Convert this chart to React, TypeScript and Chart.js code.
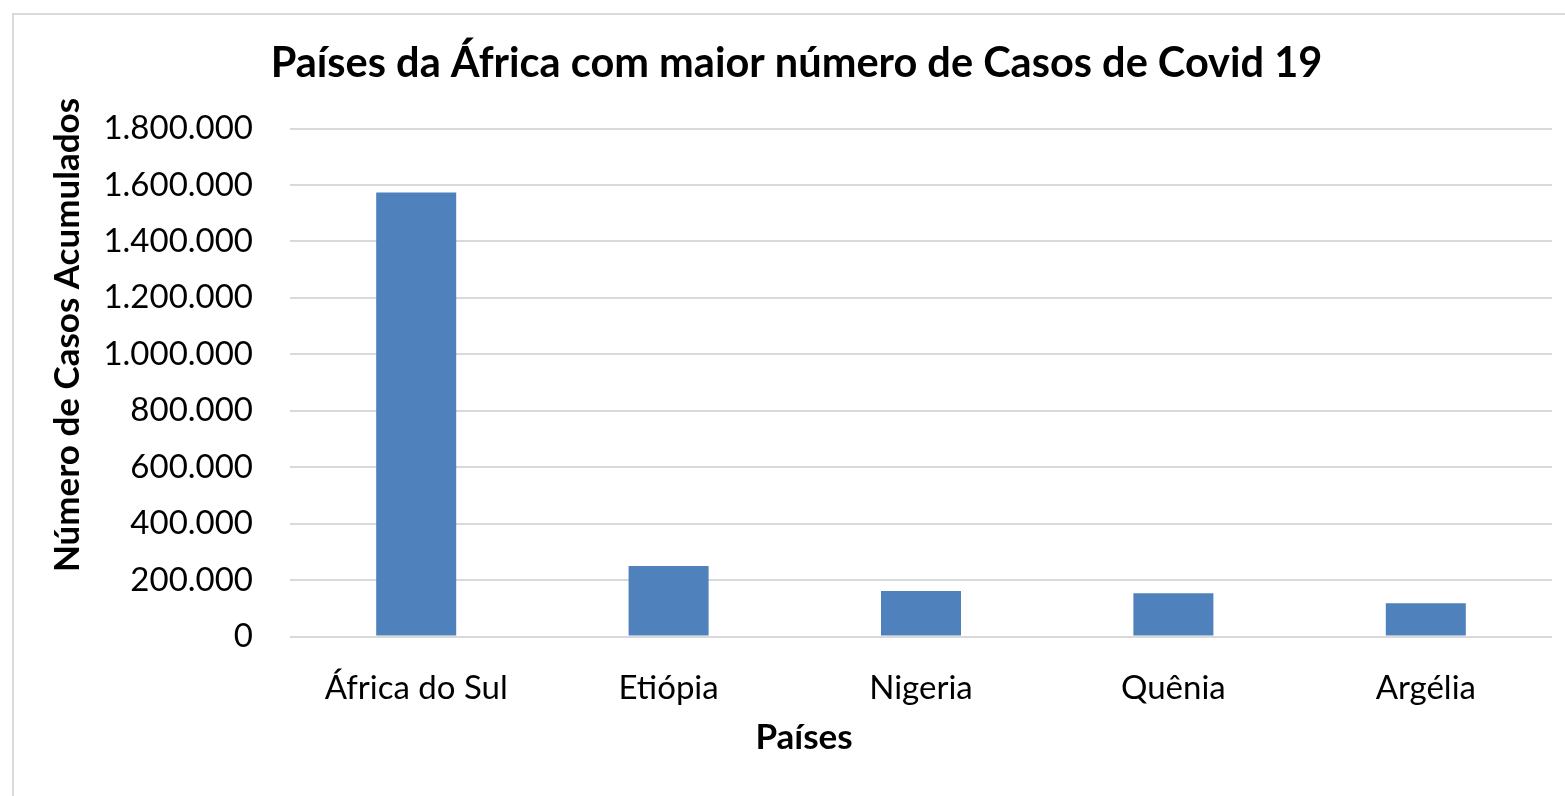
import React, { useEffect, useRef } from "react";
import { Chart, registerables } from "chart.js";

Chart.register(...registerables);

const categories = ["África do Sul", "Etiópia", "Nigeria", "Quênia", "Argélia"];
const casos = [1573000, 250000, 161000, 153000, 118000];
const yMin = 0;
const yMax = 1800000;
const yStep = 200000;

const chartTitle = "Países da África com maior número de Casos de Covid 19";
const xTitle = "Países";
const yTitle = "Número de Casos Acumulados";

const FONT = "Lato";
const fmt = (v: number) => String(Math.round(v)).replace(/\B(?=(\d{3})+(?!\d))/g, ".");

const axisTitlesPlugin = {
  id: "axisTitles",
  afterDraw(chart: any) {
    const { ctx } = chart;
    ctx.save();
    ctx.fillStyle = "#000";
    ctx.font = `bold 35px ${FONT}`;
    ctx.textAlign = "center";
    ctx.textBaseline = "middle";
    // x-axis title
    ctx.fillText(xTitle, 789, 723);
    // y-axis title
    ctx.translate(53, 320);
    ctx.rotate(-Math.PI / 2);
    ctx.fillText(yTitle, 0, 0);
    ctx.restore();
  },
};

export default function App() {
  const ref = useRef<HTMLCanvasElement | null>(null);
  useEffect(() => {
    if (!ref.current) return;
    const chart = new Chart(ref.current, {
      type: "bar",
      data: {
        labels: categories,
        datasets: [
          {
            data: casos,
            backgroundColor: "#4f81bd",
            borderWidth: 0,
            categoryPercentage: 1,
            barPercentage: 0.317,
          },
        ],
      },
      options: {
        responsive: false,
        animation: false,
        layout: { padding: { left: 26, right: 13, top: 0, bottom: 0 } },
        plugins: {
          legend: { display: false },
          tooltip: { enabled: false },
          title: {
            display: true,
            text: chartTitle,
            color: "#000",
            font: { family: FONT, size: 41.5, weight: "bold", lineHeight: 1.2 },
            padding: { top: 24, bottom: 39.7 },
          },
        },
        scales: {
          x: {
            grid: { display: false, drawTicks: false },
            border: { display: false },
            ticks: { color: "#000", font: { family: FONT, size: 33 }, padding: 32 },
            afterFit: (s: any) => {
              s.height = 159.5;
            },
          },
          y: {
            min: yMin,
            max: yMax,
            grid: { color: "#d9d9d9", lineWidth: 2, drawTicks: false },
            border: { display: false },
            ticks: {
              stepSize: yStep,
              color: "#000",
              font: { family: FONT, size: 33 },
              padding: 37,
              callback: (v: any) => fmt(Number(v)),
            },
            afterFit: (s: any) => {
              s.width = 249;
            },
          },
        },
      },
      plugins: [axisTitlesPlugin],
    });
    return () => chart.destroy();
  }, []);

  return (
    <div style={{ position: "fixed", inset: 0, overflow: "hidden", background: "#fff" }}>
      <div
        style={{
          position: "absolute",
          left: 12,
          top: 13,
          width: 1700,
          height: 900,
          border: "2px solid #d9d9d9",
          boxSizing: "border-box",
        }}
      />
      <canvas
        ref={ref}
        width={1550}
        height={781}
        style={{ position: "absolute", left: 15, top: 15, width: 1550, height: 781 }}
      />
    </div>
  );
}
